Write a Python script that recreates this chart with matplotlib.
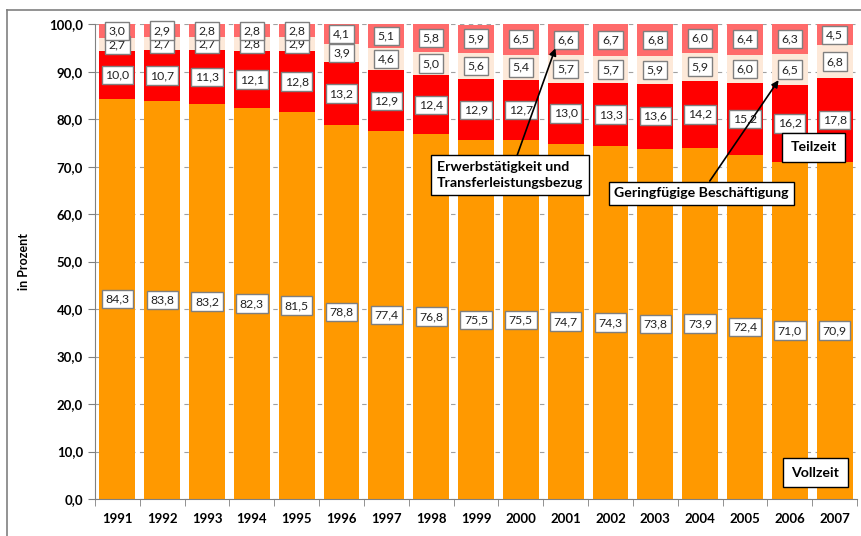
import numpy as np
import matplotlib
matplotlib.use('Agg')
from matplotlib import pyplot as plt
from matplotlib.lines import Line2D

plt.rcParams['font.family'] = ['Lato', 'DejaVu Sans']

years = ['1991', '1992', '1993', '1994', '1995', '1996', '1997', '1998', '1999',
         '2000', '2001', '2002', '2003', '2004', '2005', '2006', '2007']
vollzeit = [84.3, 83.8, 83.2, 82.3, 81.5, 78.8, 77.4, 76.8, 75.5,
            75.5, 74.7, 74.3, 73.8, 73.9, 72.4, 71.0, 70.9]
teilzeit = [10.0, 10.7, 11.3, 12.1, 12.8, 13.2, 12.9, 12.4, 12.9,
            12.7, 13.0, 13.3, 13.6, 14.2, 15.2, 16.2, 17.8]
geringfuegig = [2.7, 2.7, 2.7, 2.8, 2.9, 3.9, 4.6, 5.0, 5.6,
                5.4, 5.7, 5.7, 5.9, 5.9, 6.0, 6.5, 6.8]
transfer = [3.0, 2.9, 2.8, 2.8, 2.8, 4.1, 5.1, 5.8, 5.9,
            6.5, 6.6, 6.7, 6.8, 6.0, 6.4, 6.3, 4.5]

series = [vollzeit, teilzeit, geringfuegig, transfer]
colors = ['#FF9900', '#FF0000', '#FDE9D9', '#FF6B6B']

fig = plt.figure(figsize=(8.61, 5.36), dpi=100)
ax = fig.add_axes([0.1103, 0.069, 0.8851, 0.886])

x = np.arange(len(years))
bottom = np.zeros(len(years))
label_box = dict(boxstyle='square,pad=0.3', fc='white', ec='#7f7f7f', lw=1)
for vals, col in zip(series, colors):
    vals = np.array(vals)
    ax.bar(x, vals, 0.8, bottom=bottom, color=col, zorder=2)
    for xi, b, v in zip(x, bottom, vals):
        ax.text(xi, b + v / 2, f'{v:.1f}'.replace('.', ','), ha='center', va='center',
                fontsize=8.8, color='#222222', bbox=label_box, zorder=5)
    bottom += vals

ax.set_xlim(-0.5, len(years) - 0.5)
ax.set_ylim(0, 100)
ax.set_yticks(np.arange(0, 101, 10))
ax.set_yticklabels([f'{v:.1f}'.replace('.', ',') for v in np.arange(0, 101, 10)],
                   fontweight='bold', fontsize=9.5)
ax.set_xticks(x)
ax.set_xticklabels(years, fontweight='bold', fontsize=9.5)
ax.set_xticks(np.arange(-0.5, len(years)), minor=True)
ax.tick_params(axis='x', which='major', length=0, pad=10)
ax.tick_params(axis='x', which='minor', length=5, color='#808080')
ax.tick_params(axis='y', length=5, color='#808080')
ax.set_ylabel('in Prozent', fontweight='bold', fontsize=9, labelpad=14)

ax.grid(axis='y', linestyle=(0, (4, 4)), color='#a0a0a0', lw=0.8, zorder=0)
ax.set_axisbelow(True)
for s in ['top', 'right']:
    ax.spines[s].set_visible(False)
for s in ['left', 'bottom']:
    ax.spines[s].set_color('#808080')

note_box = dict(boxstyle='square,pad=0.4', fc='white', ec='black', lw=1)
ax.annotate('Erwerbstätigkeit und\nTransferleistungsbezug', xy=(9.77, 94.9), xytext=(8.76, 68.2),
            ha='center', va='center', multialignment='left', fontsize=10.2, fontweight='bold',
            bbox=note_box, zorder=6, linespacing=1.4,
            arrowprops=dict(arrowstyle='-|>', color='black', lw=1.2, shrinkA=0, shrinkB=0))
ax.annotate('Geringfügige Beschäftigung', xy=(14.75, 88.2), xytext=(13.03, 64.4),
            ha='center', va='center', fontsize=10.2, fontweight='bold', bbox=note_box, zorder=6,
            arrowprops=dict(arrowstyle='-|>', color='black', lw=1.2, shrinkA=0, shrinkB=0))
ax.text(15.53, 74.1, 'Teilzeit', ha='center', va='center', fontsize=10.2, fontweight='bold',
        bbox=dict(boxstyle='square,pad=0.6', fc='white', ec='black', lw=1), zorder=6)
ax.text(15.57, 5.5, 'Vollzeit', ha='center', va='center', fontsize=10.2, fontweight='bold',
        bbox=dict(boxstyle='square,pad=0.6', fc='white', ec='black', lw=1), zorder=6)

# chart area frame
fx = 7 / 861
fy = 1 - 10 / 536
fig.add_artist(Line2D([fx, 1], [fy, fy], color='#808080', lw=1.2, transform=fig.transFigure))
fig.add_artist(Line2D([fx, fx], [0, fy], color='#808080', lw=1.2, transform=fig.transFigure))

fig.savefig('out.png', dpi=100)
